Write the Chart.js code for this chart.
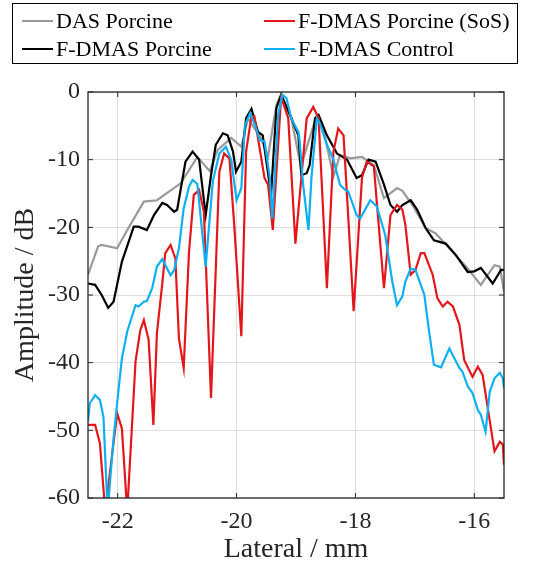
<!DOCTYPE html>
<html>
<head>
<meta charset="utf-8">
<script src="https://cdn.jsdelivr.net/npm/chart.js@4/dist/chart.umd.min.js"></script>
<style>
    html, body { margin: 0; padding: 0; background: #fff; }
    #wrap { position: relative; width: 541px; height: 567px; }
</style>
</head>
<body>
<div id="wrap"><canvas id="beamChart"></canvas></div>
<script>
// Lateral beam profiles - amplitude (dB) against lateral position (mm)

// Tick labels
const xTicks = [-22, -20, -18, -16];
const yTicks = [-60, -50, -40, -30, -20, -10, 0];

// DAS Porcine
const dasX = [-22.50, -22.33, -22.27, -22.01, -21.82, -21.56, -21.34, -20.94, -20.66, -20.45, -20.32, -20.09,
    -19.92, -19.81, -19.59, -19.47, -19.33, -19.25, -19.08, -18.92, -18.65, -18.54, -18.37, -18.26, -18.09,
    -17.89, -17.69, -17.52, -17.30, -17.21, -17.04, -16.82, -16.65, -16.42, -16.14, -15.89, -15.66, -15.57, -15.50];
const dasY = [-27.0, -22.8, -22.6, -23.1, -20.1, -16.2, -16.0, -13.5, -9.6, -11.7, -8.6, -6.8,
    -8.1, -3.9, -6.8, -9.5, -1.9, -0.4, -3.8, -11.0, -3.4, -5.4, -12.5, -9.3, -9.8,
    -9.6, -10.8, -15.7, -14.2, -14.6, -16.7, -20.1, -20.9, -23.1, -25.8, -28.5, -25.6, -25.8, -29.5];

// F-DMAS Porcine
const fdmasX = [-22.50, -22.38, -22.27, -22.16, -22.07, -21.93, -21.73, -21.65, -21.51, -21.39, -21.25, -21.17,
    -21.05, -21.00, -20.86, -20.74, -20.63, -20.52, -20.43, -20.35, -20.23, -20.15, -20.06, -20.01, -19.92,
    -19.84, -19.75, -19.64, -19.56, -19.42, -19.33, -19.25, -19.08, -18.96, -18.91, -18.82, -18.77, -18.68,
    -18.62, -18.48, -18.31, -18.14, -17.98, -17.89, -17.78, -17.66, -17.52, -17.41, -17.30, -17.21, -17.07,
    -16.96, -16.82, -16.68, -16.48, -16.31, -16.11, -16.00, -15.89, -15.69, -15.55, -15.50];
const fdmasY = [-28.3, -28.5, -30.0, -31.9, -31.0, -25.1, -19.9, -19.9, -20.4, -18.2, -16.4, -16.7,
    -17.7, -17.4, -10.3, -8.8, -10.0, -18.2, -12.3, -7.8, -6.1, -6.4, -8.8, -11.8, -10.3,
    -3.9, -2.5, -5.9, -6.4, -15.2, -2.4, -0.4, -3.8, -6.4, -12.3, -12.0, -10.8, -3.9,
    -3.4, -6.4, -9.1, -10.0, -12.7, -12.3, -10.0, -10.3, -13.7, -16.7, -17.7, -16.7, -16.0,
    -17.4, -20.1, -21.9, -22.4, -24.1, -26.6, -26.5, -26.0, -28.3, -26.3, -26.3];

// F-DMAS Porcine (SoS)
const sosX = [-22.50, -22.38, -22.30, -22.21, -22.01, -21.93, -21.84, -21.70, -21.62, -21.56, -21.48, -21.40,
    -21.34, -21.25, -21.20, -21.11, -21.03, -20.97, -20.89, -20.80, -20.72, -20.63, -20.55, -20.43, -20.29,
    -20.21, -20.12, -20.04, -19.92, -19.84, -19.75, -19.70, -19.53, -19.47, -19.39, -19.25, -19.13, -19.01,
    -18.82, -18.71, -18.62, -18.48, -18.37, -18.29, -18.20, -18.03, -17.89, -17.81, -17.69, -17.52, -17.41,
    -17.30, -17.21, -17.16, -17.07, -16.99, -16.90, -16.84, -16.70, -16.62, -16.53, -16.45, -16.36, -16.25,
    -16.17, -16.03, -15.94, -15.86, -15.66, -15.57, -15.52, -15.50];
const sosY = [-49.2, -49.2, -51.9, -62.0, -47.5, -49.7, -62.0, -39.8, -35.2, -33.7, -36.6, -49.2,
    -35.6, -28.3, -23.8, -22.6, -24.6, -36.4, -40.8, -23.6, -15.2, -14.5, -17.7, -45.2, -11.8,
    -9.1, -9.8, -19.6, -36.1, -8.8, -3.6, -3.6, -12.7, -13.7, -20.4, -0.7, -3.9, -22.4,
    -3.9, -2.2, -3.9, -29.0, -8.8, -5.4, -6.4, -32.4, -12.7, -10.3, -11.0, -29.0, -18.2,
    -16.7, -17.4, -19.6, -27.0, -26.3, -23.8, -23.8, -27.0, -30.5, -31.7, -31.0, -31.7, -34.4,
    -39.6, -42.1, -40.6, -41.8, -53.1, -51.7, -52.1, -55.1];

// F-DMAS Control
const ctrlX = [-22.50, -22.47, -22.38, -22.30, -22.24, -22.17, -22.07, -21.99, -21.93, -21.84, -21.70, -21.65,
    -21.56, -21.51, -21.42, -21.34, -21.25, -21.11, -21.05, -20.97, -20.89, -20.80, -20.74, -20.66, -20.52,
    -20.40, -20.29, -20.18, -20.09, -20.00, -19.92, -19.86, -19.77, -19.67, -19.61, -19.53, -19.44, -19.40,
    -19.30, -19.23, -19.16, -19.08, -18.96, -18.94, -18.88, -18.79, -18.74, -18.65, -18.60, -18.48, -18.37,
    -18.26, -18.17, -18.12, -17.98, -17.92, -17.75, -17.64, -17.50, -17.38, -17.30, -17.21, -17.16, -17.07,
    -16.99, -16.84, -16.76, -16.68, -16.56, -16.42, -16.25, -16.20, -16.11, -16.03, -15.94, -15.89, -15.81,
    -15.74, -15.66, -15.57, -15.52, -15.50];
const ctrlY = [-48.7, -46.0, -44.8, -45.5, -48.0, -62.0, -51.2, -44.3, -39.4, -35.4, -31.5, -31.7,
    -31.0, -30.9, -29.0, -25.8, -24.7, -27.1, -26.3, -23.1, -17.2, -14.0, -13.0, -13.6, -25.8,
    -13.2, -9.1, -8.1, -10.0, -16.0, -14.2, -4.9, -3.1, -5.4, -7.1, -7.3, -12.7, -18.7,
    -3.4, -0.4, -0.9, -3.9, -5.9, -7.1, -13.7, -20.4, -12.7, -3.9, -4.6, -7.8, -10.0,
    -13.7, -14.5, -14.7, -18.2, -18.7, -16.0, -16.9, -21.1, -28.0, -31.5, -30.2, -28.0, -26.1,
    -26.3, -30.0, -35.4, -40.3, -40.7, -37.9, -40.8, -41.3, -43.5, -44.5, -47.0, -47.7, -50.2,
    -44.3, -42.3, -41.5, -42.3, -43.8];

const seriesNames = ['DAS Porcine', 'F-DMAS Porcine', 'F-DMAS Porcine (SoS)', 'F-DMAS Control'];
const seriesColors = ['#999999', '#000000', '#e3171b', '#0fb0f2'];

function points(xs, ys) {
    return xs.map((x, i) => ({ x: x, y: ys[i] }));
}

const serif = 'Liberation Serif, Times New Roman, serif';
const axisColor = '#262626';

// Box, inward ticks and a two-column legend, drawn like the original figure
const figurePlugin = {
    id: 'figure',
    afterDatasetsDraw(chart) {
        const { ctx, chartArea: a, scales } = chart;
        ctx.save();
        ctx.strokeStyle = axisColor;
        ctx.lineWidth = 1.3;
        ctx.strokeRect(a.left, a.top, a.right - a.left, a.bottom - a.top);
        ctx.lineWidth = 1;
        ctx.beginPath();
        xTicks.forEach(v => {
            const px = scales.x.getPixelForValue(v);
            ctx.moveTo(px, a.bottom); ctx.lineTo(px, a.bottom - 5);
            ctx.moveTo(px, a.top); ctx.lineTo(px, a.top + 5);
        });
        yTicks.forEach(v => {
            const py = scales.y.getPixelForValue(v);
            ctx.moveTo(a.left, py); ctx.lineTo(a.left + 5, py);
            ctx.moveTo(a.right, py); ctx.lineTo(a.right - 5, py);
        });
        ctx.stroke();
        ctx.restore();
    },
    afterDraw(chart) {
        const ctx = chart.ctx;
        ctx.save();
        ctx.fillStyle = '#fff';
        ctx.fillRect(12.5, 3.5, 505, 60);
        ctx.strokeStyle = '#000';
        ctx.lineWidth = 1;
        ctx.strokeRect(12.5, 3.5, 505, 60);
        ctx.font = '22px ' + serif;
        ctx.textBaseline = 'middle';
        ctx.fillStyle = '#000';
        const colX = [22, 264];
        const rowY = [21, 49];
        chart.data.datasets.forEach((ds, i) => {
            const x = colX[Math.floor(i / 2)];
            const y = rowY[i % 2];
            ctx.strokeStyle = ds.borderColor;
            ctx.lineWidth = 2;
            ctx.beginPath();
            ctx.moveTo(x, y);
            ctx.lineTo(x + 31, y);
            ctx.stroke();
            ctx.fillText(ds.label, x + 34, y + 1);
        });
        ctx.restore();
    }
};

const datasets = [
    points(dasX, dasY),
    points(fdmasX, fdmasY),
    points(sosX, sosY),
    points(ctrlX, ctrlY)
].map((data, i) => ({
    label: seriesNames[i],
    data: data,
    borderColor: seriesColors[i],
    backgroundColor: seriesColors[i],
    borderWidth: 2.2,
    pointRadius: 0,
    tension: 0,
    order: 4 - i   // later series on top
}));

const chart = new Chart(document.getElementById('beamChart'), {
    type: 'line',
    data: { datasets: datasets },
    options: {
        responsive: true,
        maintainAspectRatio: false,
        animation: false,
        layout: { padding: { top: 92, right: 37, bottom: 0, left: 0 } },
        plugins: {
            legend: { display: false },
            tooltip: { enabled: false }
        },
        scales: {
            x: {
                type: 'linear',
                min: -22.5,
                max: -15.5,
                afterBuildTicks: s => { s.ticks = xTicks.map(v => ({ value: v })); },
                afterFit: s => { s.height = 69; },
                grid: { color: '#dedede', drawTicks: false },
                border: { display: false },
                ticks: { color: axisColor, padding: 9, font: { family: serif, size: 24 } },
                title: {
                    display: true,
                    text: 'Lateral / mm',
                    color: axisColor,
                    padding: { top: 0, bottom: 1 },
                    font: { family: serif, size: 28 }
                }
            },
            y: {
                min: -60,
                max: 0,
                afterBuildTicks: s => { s.ticks = yTicks.map(v => ({ value: v })); },
                afterFit: s => { s.width = 88; },
                grid: { color: '#dedede', drawTicks: false },
                border: { display: false },
                ticks: { color: axisColor, padding: 8, font: { family: serif, size: 24 } },
                title: {
                    display: true,
                    text: 'Amplitude / dB',
                    color: axisColor,
                    padding: { top: 9, bottom: 0 },
                    font: { family: serif, size: 28 }
                }
            }
        }
    },
    plugins: [figurePlugin]
});
</script>
</body>
</html>
